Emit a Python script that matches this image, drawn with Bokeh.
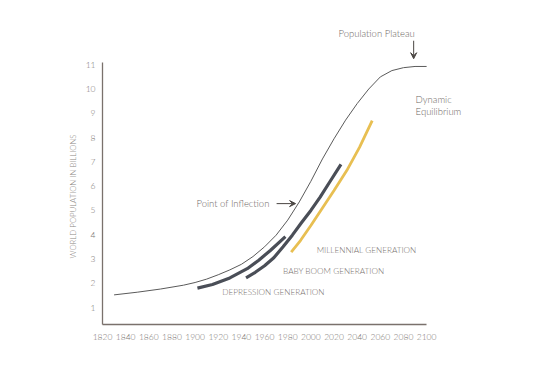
from bokeh.plotting import figure
from bokeh.models import Range1d, FixedTicker, Arrow, VeeHead, Title
from bokeh.core.properties import value
from bokeh.embed import file_html
from bokeh.resources import INLINE

# ---- data ----
world_years = [1830, 1850, 1870, 1890, 1900, 1910, 1920, 1930, 1940, 1950, 1960, 1970,
               1980, 1990, 2000, 2010, 2020, 2030, 2040, 2050, 2060, 2070, 2080, 2090, 2100]
world_pop = [1.52, 1.63, 1.76, 1.92, 2.03, 2.17, 2.35, 2.55, 2.78, 3.10, 3.50, 3.98,
             4.60, 5.35, 6.20, 7.12, 7.95, 8.72, 9.40, 10.00, 10.50, 10.76, 10.88, 10.93, 10.93]

depression_years = [1902, 1915, 1930, 1945, 1955, 1965, 1978]
depression_pop = [1.80, 1.95, 2.22, 2.60, 2.95, 3.35, 3.92]

babyboom_years = [1944, 1952, 1960, 1968, 1976, 1984, 1992, 2000, 2008, 2016, 2026]
babyboom_pop = [2.22, 2.45, 2.72, 3.05, 3.50, 3.98, 4.50, 5.00, 5.55, 6.15, 6.90]

millennial_years = [1983, 1991, 2000, 2010, 2020, 2031, 2042, 2053]
millennial_pop = [3.28, 3.76, 4.38, 5.10, 5.82, 6.64, 7.60, 8.70]

x_ticks = list(range(1820, 2101, 20))
y_ticks = list(range(1, 12))

y_title = "WORLD POPULATION IN BILLIONS"

gen_labels = ["MILLENNIAL GENERATION", "BABY BOOM GENERATION", "DEPRESSION GENERATION"]
gen_label_x = [2005, 1976, 1923.5]
gen_label_y = [3.37, 2.49, 1.65]

note_labels = ["Dynamic", "Equilibrium"]
note_x = [2090.5, 2090.5]
note_y = [9.56, 9.07]

plateau_text = "Population Plateau"
plateau_text_pos = (2056.8, 12.28)
plateau_arrow = (2088.8, 11.99, 2088.8, 11.25)

inflection_text = "Point of Inflection"
inflection_text_pos = (1964.3, 5.28)
inflection_arrow = (1970.4, 5.28, 1986.8, 5.28)

# ---- styling ----
FONT = "Lato Light"
TEXT_COL = "#6e6864"
AXIS_COL = "#7a716c"
DARK = "#4a4e57"
GOLD = "#e8bf52"

p = figure(width=534, height=350, output_backend="svg", toolbar_location=None,
           x_range=Range1d(1820, 2150), y_range=Range1d(0.3, 12.7),
           min_border_left=102, min_border_right=50, min_border_top=23, min_border_bottom=26)
p.outline_line_color = None
p.xgrid.visible = False
p.ygrid.visible = False
p.background_fill_color = "white"
p.border_fill_color = "white"

for ax in (p.xaxis[0], p.yaxis[0]):
    ax.axis_line_color = AXIS_COL
    ax.axis_line_width = 1.3
    ax.major_tick_line_color = None
    ax.minor_tick_line_color = None
    ax.major_tick_out = 0
    ax.major_tick_in = 0
    ax.major_label_text_font = FONT
    ax.major_label_text_font_size = "8.5px"
    ax.major_label_text_color = "#7d7874"

p.xaxis.ticker = FixedTicker(ticks=x_ticks)
p.yaxis.ticker = FixedTicker(ticks=y_ticks)
p.xaxis.bounds = (1820, 2100)
p.yaxis.bounds = (0.3, 11.1)
p.xaxis.major_label_standoff = 9
p.yaxis.major_label_standoff = 7

p.add_layout(Title(text=y_title, align="left", offset=66, standoff=10,
                   text_font=FONT, text_font_size="7.8px", text_font_style="normal",
                   text_color="#8a8581"), "left")

# ---- lines ----
p.line(world_years, world_pop, line_color="#5a5a5a", line_width=1)
p.line(depression_years, depression_pop, line_color=DARK, line_width=3.2, line_cap="butt")
p.line(babyboom_years, babyboom_pop, line_color=DARK, line_width=3.2, line_cap="butt")
p.line(millennial_years, millennial_pop, line_color=GOLD, line_width=2.8, line_cap="butt")

# ---- labels ----
p.text(x=gen_label_x, y=gen_label_y, text=gen_labels, text_font=value(FONT),
       text_font_size="8.2px", text_color="#77716d", text_baseline="middle", text_align="left")
p.text(x=note_x, y=note_y, text=note_labels, text_font=value(FONT),
       text_font_size="9.5px", text_color=TEXT_COL, text_baseline="middle", text_align="left")
p.text(x=[plateau_text_pos[0]], y=[plateau_text_pos[1]], text=[plateau_text], text_font=value(FONT),
       text_font_size="9.5px", text_color=TEXT_COL, text_baseline="middle", text_align="center")
p.text(x=[inflection_text_pos[0]], y=[inflection_text_pos[1]], text=[inflection_text],
       text_font=value(FONT), text_font_size="9.5px", text_color=TEXT_COL,
       text_baseline="middle", text_align="right")

for (xs, ys, xe, ye) in (plateau_arrow, inflection_arrow):
    p.add_layout(Arrow(end=VeeHead(size=6, fill_color="#4a4542", line_color="#4a4542", line_width=1),
                       x_start=xs, y_start=ys, x_end=xe, y_end=ye,
                       line_color="#4a4542", line_width=1))

open("out.html", "w").write(file_html(p, INLINE))
